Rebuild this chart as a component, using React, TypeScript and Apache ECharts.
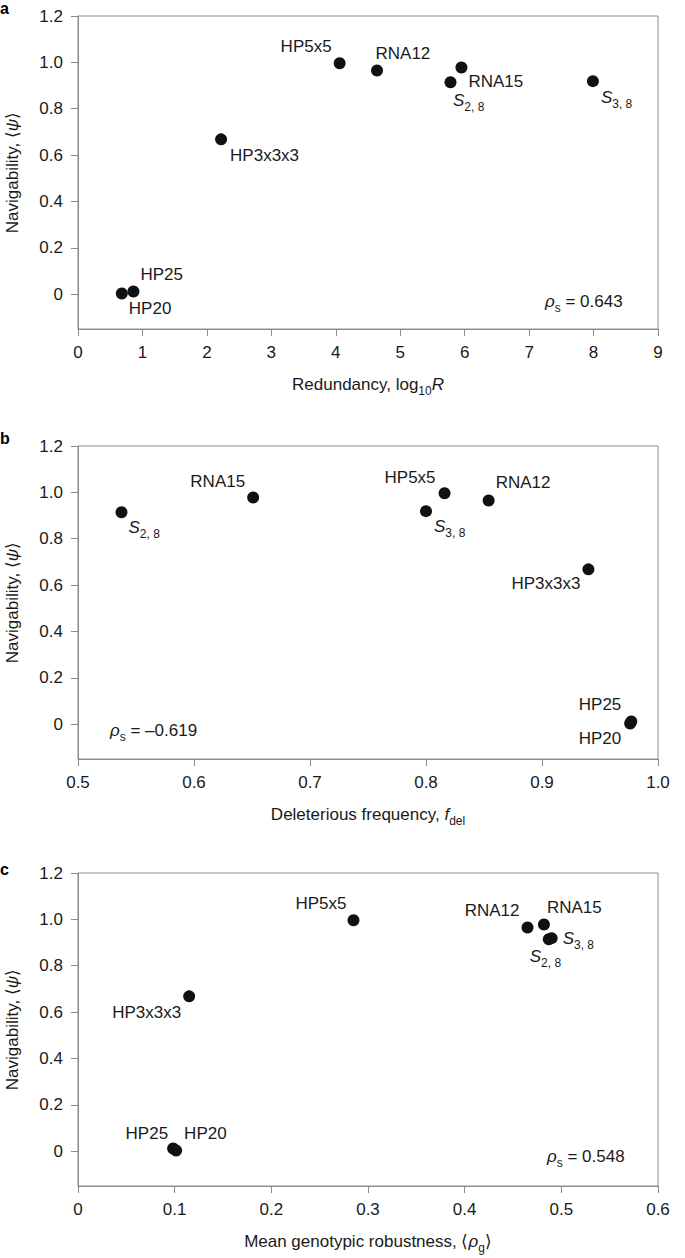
import React, { useEffect, useRef } from "react";
import * as echarts from "echarts";

// ---- data ----
const systems = ["HP20", "HP25", "HP3x3x3", "HP5x5", "RNA12", "RNA15", "S2,8", "S3,8"];
const navigability = [0.003, 0.012, 0.668, 0.996, 0.965, 0.978, 0.914, 0.919];
const redundancyLog10 = [0.68, 0.86, 2.22, 4.06, 4.64, 5.95, 5.78, 7.99];
const deleteriousFreq = [0.976, 0.977, 0.94, 0.816, 0.854, 0.651, 0.5375, 0.8];
const meanRobustness = [0.1015, 0.0984, 0.115, 0.285, 0.465, 0.482, 0.487, 0.49];
const yTicks = [0, 0.2, 0.4, 0.6, 0.8, 1.0, 1.2];
const rhoA = "0.643";
const rhoB = "\u20130.619";
const rhoC = "0.548";

// ---- label placement (layout) ----
type LP = [string, number, number];
const placeA: LP[] = [
  ["left", 7, 15], ["left", 7, -17], ["left", 9, 16], ["right", -8, -17],
  ["left", -1.5, -17], ["left", 7, 14], ["left", 2.5, 20], ["left", 8, 18],
];
const placeB: LP[] = [
  ["right", -9, 15], ["right", -10, -17], ["right", -8, 14], ["right", -9, -16],
  ["left", 7, -18], ["right", -8, -16], ["left", 7, 17], ["left", 8, 17],
];
const placeC: LP[] = [
  ["left", 8, -17], ["right", -5, -15], ["right", -8, 16], ["right", -7, -17],
  ["right", -8, -17], ["left", 3, -17], ["left", -19, 19], ["left", 11, 2.5],
];

const FONT = "'Liberation Sans', Arial, Helvetica, sans-serif";
const AXIS_GREY = "#8c8c8c";
const TXT = "#1a1a1a";
const FS = 17;

const subRich = {
  it: { fontStyle: "italic", fontSize: FS, lineHeight: FS, verticalAlign: "top", color: TXT, fontFamily: FONT },
  sub: { fontSize: 12, lineHeight: 21, verticalAlign: "bottom", color: TXT, fontFamily: FONT },
  n: { fontSize: FS, lineHeight: FS, verticalAlign: "top", color: TXT, fontFamily: FONT },
};

function fmtName(n: string) {
  if (n.startsWith("S")) {
    const parts = n.slice(1).split(",");
    return "{it|S}{sub|" + parts[0] + ", " + parts[1] + "}";
  }
  return n;
}

export default function App() {
  const ref = useRef<HTMLDivElement>(null);
  useEffect(() => {
    if (!ref.current) return;
    const chart = echarts.init(ref.current, null, { renderer: "svg" });
    const tops = [16, 446, 873];
    const grids = tops.map((t) => ({
      left: 78, top: t, width: 580, height: 313, show: true,
      outerBoundsMode: "none", containLabel: false,
      borderColor: AXIS_GREY, borderWidth: 1, backgroundColor: "transparent",
    }));
    const xCommon = {
      type: "value",
      nameLocation: "middle",
      nameGap: 47,
      nameTextStyle: { fontSize: FS, color: TXT, fontFamily: FONT, rich: subRich },
      axisLine: { show: true, onZero: false, lineStyle: { color: AXIS_GREY, width: 1 } },
      axisTick: { show: true, inside: false, length: 7, lineStyle: { color: AXIS_GREY } },
      axisLabel: { fontSize: FS, color: TXT, fontFamily: FONT, margin: 15 },
      splitLine: { show: false },
    };
    const xAxes = [
      { ...xCommon, gridIndex: 0, min: 0, max: 9, interval: 1,
        name: "{n|Redundancy, log}{sub|10}{it|R}",
        axisLabel: { ...xCommon.axisLabel, formatter: (v: number) => String(v) } },
      { ...xCommon, gridIndex: 1, min: 0.5, max: 1.0, interval: 0.1,
        name: "{n|Deleterious frequency, }{it|f}{sub|del}",
        axisLabel: { ...xCommon.axisLabel, formatter: (v: number) => v.toFixed(1) } },
      { ...xCommon, gridIndex: 2, min: 0, max: 0.6, interval: 0.1,
        name: "{n|Mean genotypic robustness, \u27e8}{it|\u03c1}{sub|g}{n|\u27e9}",
        axisLabel: { ...xCommon.axisLabel, formatter: (v: number) => (v === 0 ? "0" : v.toFixed(1)) } },
    ];
    const yAxes = [0, 1, 2].map((g) => ({
      type: "value", gridIndex: g, min: -0.15, max: 1.2,
      name: "{n|Navigability, \u27e8}{it|\u03c8}{n|\u27e9}",
      nameLocation: "middle", nameGap: 57, nameRotate: 90,
      nameTextStyle: { fontSize: FS, color: TXT, fontFamily: FONT, rich: subRich },
      axisLine: { show: true, onZero: false, lineStyle: { color: AXIS_GREY, width: 1 } },
      axisTick: { show: true, length: 7, customValues: yTicks, lineStyle: { color: AXIS_GREY } },
      axisLabel: {
        fontSize: FS, color: TXT, fontFamily: FONT, margin: 15, customValues: yTicks,
        formatter: (v: number) => (Math.abs(v) < 1e-9 ? "0" : v.toFixed(1)),
      },
      splitLine: { show: false },
    }));
    const xs = [redundancyLog10, deleteriousFreq, meanRobustness];
    const places = [placeA, placeB, placeC];
    const series = [0, 1, 2].map((g) => ({
      type: "scatter", xAxisIndex: g, yAxisIndex: g, symbolSize: 12, clip: false,
      itemStyle: { color: "#111", opacity: 1 },
      data: systems.map((n, i) => ({
        name: n,
        value: [xs[g][i], navigability[i]],
        label: { align: places[g][i][0], offset: [places[g][i][1], places[g][i][2]] },
      })),
      label: {
        show: true, position: "inside", verticalAlign: "middle",
        fontSize: FS, color: TXT, fontFamily: FONT,
        formatter: (p: any) => fmtName(p.name), rich: subRich,
      },
    }));
    const rho = (x: number, y: number, val: string) => ({
      type: "text", x, y,
      style: {
        text: "{it|\u03c1}{sub|s}{n| = " + val + "}",
        rich: subRich, verticalAlign: "middle", align: "left",
        fontSize: FS, fill: TXT, fontFamily: FONT,
      },
    });
    const letter = (t: string, y: number) => ({
      type: "text", x: 0, y,
      style: { text: t, fontSize: 16, fontWeight: "bold", fill: "#000", fontFamily: FONT, verticalAlign: "top" },
    });
    chart.setOption({
      animation: false,
      grid: grids,
      xAxis: xAxes,
      yAxis: yAxes,
      series,
      graphic: [
        rho(545, 303.5, rhoA), rho(110, 732, rhoB), rho(547, 1158.5, rhoC),
        letter("a", 0), letter("b", 430), letter("c", 861),
      ],
    });
    return () => chart.dispose();
  }, []);
  return <div ref={ref} style={{ position: "absolute", left: 0, top: 0, width: 685, height: 1258 }} />;
}
